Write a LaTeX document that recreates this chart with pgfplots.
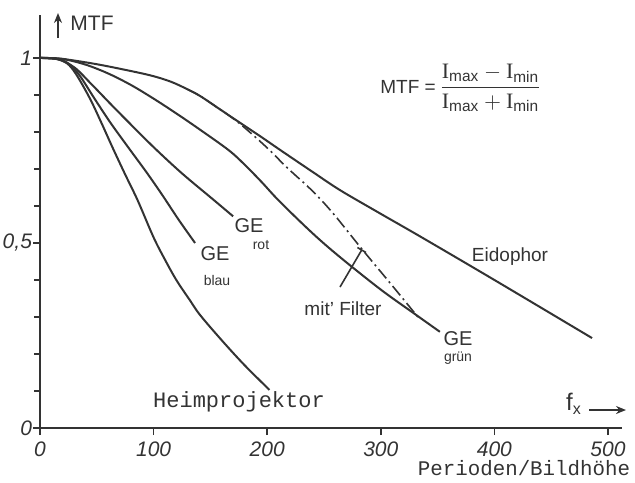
\documentclass[border=0pt]{standalone}
\usepackage{fontspec}
\setmainfont{Liberation Sans}
\setsansfont{Liberation Sans}
\setmonofont{Liberation Mono}
\newfontfamily\serifI{Liberation Serif}
\usepackage{amsmath}
\usepackage{pgfplots}
\pgfplotsset{compat=1.18}
\usetikzlibrary{arrows.meta}
\definecolor{ink}{gray}{0.2}
\begin{document}
\begin{tikzpicture}[x=0.5pt,y=-0.5pt]
\path[use as bounding box] (0,0) rectangle (635,482);
\begin{axis}[
  at={(20pt,-214pt)}, anchor=south west,
  scale only axis, width=290.8pt, height=206.5pt,
  xmin=0, xmax=512, ymin=0, ymax=1.116,
  axis lines=left, axis line style={-, ink, line width=1pt},
  xtick={0,100,200,300,400,500}, xticklabels={0,100,200,300,400,500},
  ytick={0,0.5,1}, yticklabels={0,{0,5},1},
  minor ytick={0.1,0.2,0.3,0.4,0.6,0.7,0.8,0.9},
  tick align=outside, major tick length=3.5pt, minor tick length=3pt,
  tick style={ink, line width=0.8pt},
  ticklabel style={font=\itshape\fontsize{10.5}{12}\selectfont, text=ink},
  xticklabel style={yshift=0pt},
  yticklabel style={xshift=3pt},
  clip=false,
  curve/.style={ink, no markers, line width=1pt, smooth, tension=0.55},
]
% Eidophor
\addplot[curve] coordinates {(0,1) (15,0.999) (30,0.993) (50,0.983) (70,0.971) (97,0.953) (115,0.936) (130,0.915) (141,0.897) (158,0.862) (176,0.825) (195,0.786) (213,0.748) (240,0.692) (264,0.643) (297,0.584) (335,0.517) (400,0.40) (486,0.243)};
% mit Filter (dash-dot)
\addplot[curve, line width=0.8pt, dash pattern=on 6pt off 2pt on 1pt off 2pt] coordinates {(130,0.915) (141,0.897) (158,0.862) (176,0.822) (200,0.757) (217,0.705) (240,0.64) (258,0.58) (283,0.485) (310,0.385) (334,0.295)};
% GE gruen
\addplot[curve] coordinates {(0,1) (20,0.997) (40,0.982) (60,0.958) (80,0.927) (100,0.89) (120,0.85) (140,0.808) (166,0.751) (180,0.712) (195,0.665) (211,0.612) (240,0.526) (264,0.462) (300,0.374) (330,0.308) (352,0.26)};
% GE rot
\addplot[curve] coordinates {(0,1) (15,0.997) (30,0.975) (45,0.93) (62,0.876) (80,0.82) (101,0.756) (125,0.688) (153,0.616) (170,0.572)};
% GE blau
\addplot[curve] coordinates {(0,1) (15,0.997) (25,0.985) (35,0.952) (48,0.89) (62,0.825) (78,0.757) (94,0.69) (108,0.628) (122,0.563) (136.5,0.50)};
% Heimprojektor
\addplot[curve] coordinates {(0,1) (15,0.997) (24,0.985) (32,0.955) (44,0.89) (54,0.825) (64,0.757) (75,0.685) (86,0.615) (100,0.515) (110,0.455) (120,0.40) (132,0.345) (141,0.305) (160,0.237) (180,0.17) (202,0.103)};
\end{axis}
% y axis label with arrow
\draw[ink, line width=0.9pt, -{Stealth[length=5pt,width=4pt]}] (58,38) -- (58,13);
\node[text=ink, font=\fontsize{10.5}{12}\selectfont] at (92,23) {MTF};
% formula
\node[text=ink, font=\fontsize{11}{13}\selectfont] at (461,88) {{\fontsize{9.5}{11}\selectfont MTF =}\,$\displaystyle\frac{\text{\serifI I}_{\text{max}}-\text{\serifI I}_{\text{min}}}{\text{\serifI I}_{\text{max}}+\text{\serifI I}_{\text{min}}}$};
% curve labels
\node[text=ink, font=\fontsize{9.5}{11}\selectfont] at (510,257) {Eidophor};
\node[text=ink, font=\fontsize{10}{12}\selectfont] at (249,226) {GE};
\node[text=ink, font=\fontsize{7}{8}\selectfont] at (261,245) {rot};
\node[text=ink, font=\fontsize{10}{12}\selectfont] at (215,254) {GE};
\node[text=ink, font=\fontsize{7}{8}\selectfont] at (217,280) {blau};
\node[text=ink, font=\fontsize{10}{12}\selectfont] at (458,339) {GE};
\node[text=ink, font=\fontsize{7}{8}\selectfont] at (458,358) {grün};
\node[text=ink, font=\fontsize{9.5}{11}\selectfont] at (343,309) {mit' Filter};
\draw[ink, line width=0.8pt] (340,287) -- (361.7,250);
\draw[ink, line width=0.8pt] (357.4,247.5) -- (366,252.5);
\node[text=ink, font=\ttfamily\fontsize{11}{13}\selectfont] at (239,402) {Heimprojektor};
\node[text=ink, font=\ttfamily\fontsize{10.4}{12}\selectfont] at (524,468) {Perioden/Bildhöhe};
% f_x arrow
\node[text=ink, font=\fontsize{12}{14}\selectfont] at (574,404) {f$_{\text{x}}$};
\draw[ink, line width=0.9pt, -{Stealth[length=5pt,width=4pt]}] (589,410) -- (626,410);
\end{tikzpicture}
\end{document}
